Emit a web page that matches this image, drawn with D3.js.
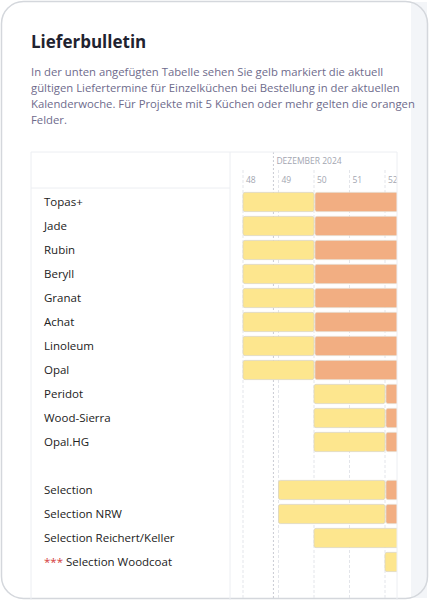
<!DOCTYPE html>
<html lang="de">
<head>
<meta charset="UTF-8" />
<script src="https://d3js.org/d3.v7.min.js"></script>
<style>
  body { margin: 0; background: #fff; font-family: "Open Sans", "Noto Sans", sans-serif; }
</style>
</head>
<body>
<svg id="chart" width="429" height="600"></svg>
<script>
// rows (null = empty spacer row)
const rows = ["Topas+", "Jade", "Rubin", "Beryll", "Granat", "Achat", "Linoleum", "Opal",
  "Peridot", "Wood-Sierra", "Opal.HG", null,
  "Selection", "Selection NRW", "Selection Reichert/Keller", "Selection Woodcoat"];
// yellow start week, yellow end / orange start week, orange end week
const yellowStart = [48, 48, 48, 48, 48, 48, 48, 48, 50, 50, 50, null, 49, 49, 50, 52];
const orangeStart = [50, 50, 50, 50, 50, 50, 50, 50, 52, 52, 52, null, 52, 52, 54, 54];
const orangeEnd   = [55, 55, 55, 55, 55, 55, 55, 55, 55, 55, 55, null, 55, 55, 55, 55];
const weeks = [48, 49, 50, 51, 52];
const monthLabel = "DEZEMBER 2024";
const monthStart = 48 + 6 / 7; // 1 Dec 2024

const svg = d3.select("#chart");

// card
svg.append("rect").attr("x", 411).attr("y", 2).attr("width", 16).attr("height", 596).attr("fill", "#f3f5f8");
svg.append("rect").attr("x", 1.5).attr("y", 1.5).attr("width", 426).attr("height", 597)
  .attr("rx", 22).attr("fill", "none").attr("stroke", "#d4d7dc").attr("stroke-width", 1.5);

svg.append("text").attr("x", 31).attr("y", 48).attr("font-size", 17).attr("font-weight", 700)
  .attr("fill", "#1f2330").text("Lieferbulletin");

const para = [
  "In der unten angefügten Tabelle sehen Sie gelb markiert die aktuell",
  "gültigen Liefertermine für Einzelküchen bei Bestellung in der aktuellen",
  "Kalenderwoche. Für Projekte mit 5 Küchen oder mehr gelten die orangen",
  "Felder."
];
svg.append("g").selectAll("text").data(para).join("text")
  .attr("x", 31).attr("y", (d, i) => 76 + i * 16)
  .attr("font-size", 11.3).attr("fill", "#6e6b8c").text(d => d);

// table
const tLeft = 31, tRight = 397, tTop = 152, headBottom = 188, labelCol = 230;
const x = d3.scaleLinear().domain([48, 52]).range([243, 385]);
const y = d3.scaleBand().domain(d3.range(rows.length)).range([190, 574]).paddingInner(0.2).paddingOuter(0.1);

svg.append("clipPath").attr("id", "clip")
  .append("rect").attr("x", labelCol).attr("y", tTop).attr("width", tRight - labelCol).attr("height", 450);

const grid = svg.append("g").attr("clip-path", "url(#clip)");
svg.append("line").attr("x1", tLeft).attr("x2", tRight).attr("y1", tTop).attr("y2", tTop).attr("stroke", "#eceef2");
svg.append("line").attr("x1", tRight).attr("x2", tRight).attr("y1", tTop).attr("y2", 600).attr("stroke", "#eceef2");
svg.append("line").attr("x1", tLeft).attr("x2", tLeft).attr("y1", tTop).attr("y2", 600).attr("stroke", "#eceef2");
svg.append("line").attr("x1", labelCol).attr("x2", labelCol).attr("y1", tTop).attr("y2", 600).attr("stroke", "#eceef2");
svg.append("line").attr("x1", tLeft).attr("x2", labelCol).attr("y1", headBottom).attr("y2", headBottom).attr("stroke", "#eceef2");

grid.selectAll(".wk").data(weeks).join("line")
  .attr("x1", d => x(d)).attr("x2", d => x(d)).attr("y1", 170).attr("y2", 600)
  .attr("stroke", "#e3e5ea").attr("stroke-dasharray", "3,2");
grid.append("line").attr("x1", x(monthStart)).attr("x2", x(monthStart)).attr("y1", 152).attr("y2", 600)
  .attr("stroke", "#c9ccd3").attr("stroke-dasharray", "2,2");
grid.append("text").attr("x", x(monthStart) + 3).attr("y", 164).attr("font-size", 8.5)
  .attr("fill", "#a3a6b1").text(monthLabel);
grid.selectAll(".wl").data(weeks).join("text")
  .attr("x", d => x(d) + 3).attr("y", 183).attr("font-size", 8.5).attr("fill", "#a3a6b1").text(d => d);

const data = rows.map((r, i) => ({ r, i, ys: yellowStart[i], os: orangeStart[i], oe: orangeEnd[i] })).filter(d => d.r);

grid.selectAll(".orange").data(data.filter(d => d.os < 55)).join("rect")
  .attr("x", d => x(d.os) + 1).attr("width", d => x(d.oe) - x(d.os) - 2)
  .attr("y", d => y(d.i)).attr("height", y.bandwidth()).attr("rx", 2)
  .attr("fill", "#f2ae82").attr("stroke", "#e6d8c8").attr("stroke-width", 0.8);
grid.selectAll(".yellow").data(data).join("rect")
  .attr("x", d => x(d.ys)).attr("width", d => x(d.os) - x(d.ys))
  .attr("y", d => y(d.i)).attr("height", y.bandwidth()).attr("rx", 2)
  .attr("fill", "#fde68e").attr("stroke", "#dcd6c2").attr("stroke-width", 0.8);

const lab = svg.selectAll(".lab").data(data).join("text")
  .attr("x", 44).attr("y", d => y(d.i) + y.bandwidth() / 2 + 4)
  .attr("font-size", 11.5).attr("fill", "#222");
lab.each(function (d) {
  const t = d3.select(this);
  if (d.r === "Selection Woodcoat") {
    t.append("tspan").attr("fill", "#d43b3b").text("*** ");
  }
  t.append("tspan").text(d.r);
});
</script>
</body>
</html>
